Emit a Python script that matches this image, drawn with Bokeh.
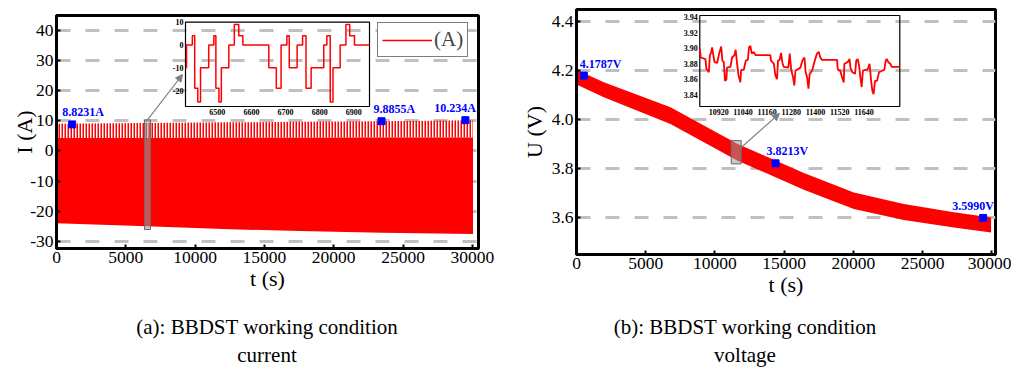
import numpy as np
from bokeh.plotting import figure
from bokeh.models import (Range1d, FixedTicker, PrintfTickFormatter, Legend, LegendItem,
                          Arrow, NormalHead, Spacer, Div)
from bokeh.layouts import row, column
from bokeh.embed import file_html
from bokeh.resources import INLINE
from bokeh.core.properties import value

SERIF = "Liberation Serif"
RED = "#ff0000"
BLUE = "#0000ff"
GRID = "#c0c0c0"
ARROW = "#808080"

# ======================= DATA =======================
# ---- (a) current ----
cur_x_ticks = [0, 5000, 10000, 15000, 20000, 25000, 30000]
cur_y_ticks = [-30, -20, -10, 0, 10, 20, 30, 40]
cur_env_t = [0, 6500, 12500, 17500, 23500, 30050]
cur_upper = [9.0, 9.3, 9.5, 9.7, 9.9, 10.2]
cur_dense_top = [4.3, 4.3, 4.4, 4.4, 4.5, 4.5]
cur_lower = [-24.0, -25.0, -26.0, -26.6, -27.2, -27.6]

cur_inset_t = [6407, 6410, 6427, 6434, 6443, 6451, 6475, 6490, 6496, 6505, 6512, 6534, 6550,
               6563, 6575, 6651, 6673, 6687, 6704, 6711, 6734, 6750, 6760, 6775, 6812, 6821,
               6831, 6839, 6860, 6877, 6888, 6902, 6946]
cur_inset_i = [-10, 0, 4, -19, -25, -10, 0, 4, -19, -25, -10, 0, 9,
               4, 0, -10, -19, 0, 4, -10, 0, 4, -19, -10, 0, 4,
               -25, -10, 0, 9, 4, 0, 0]
cur_inset_xlim = [6407, 6946]
cur_inset_ylim = [-27, 10]
cur_inset_x_ticks = [6500, 6600, 6700, 6800, 6900]
cur_inset_y_ticks = [-20, -10, 0, 10]
cur_zoom_t = [6350, 6780]
cur_zoom_i = [-26.1, 10.3]

cur_mark_t = [1130, 23450, 29500]
cur_mark_i = [8.8231, 9.8855, 10.234]
cur_mark_txt = ["8.8231A", "9.8855A", "10.234A"]
cur_caption = ["(a): BBDST working condition", "current"]

# ---- (b) voltage ----
volt_x_ticks = [0, 5000, 10000, 15000, 20000, 25000, 30000]
volt_y_ticks = [3.6, 3.8, 4.0, 4.2, 4.4]
volt_env_t = [0, 1975, 6790, 11610, 14380, 16425, 20035, 23650, 27260, 29950]
volt_upper = [4.203, 4.152, 4.050, 3.901, 3.833, 3.782, 3.703, 3.656, 3.622, 3.601]
volt_lower = [4.142, 4.091, 3.982, 3.833, 3.765, 3.714, 3.635, 3.591, 3.560, 3.540]

volt_inset_t = [10826, 10831, 10854, 10859, 10871, 10876, 10882, 10887, 10892, 10899, 10912,
                10922, 10932, 10938, 10945, 10951, 10958, 10961, 10978, 10986, 10998, 11004,
                11011, 11018, 11027, 11031, 11044, 11054, 11064, 11070, 11077, 11084, 11094,
                11102, 11176, 11179, 11193, 11201, 11209, 11214, 11222, 11229, 11236, 11242,
                11265, 11272, 11279, 11288, 11295, 11300, 11325, 11335, 11345, 11351, 11358,
                11365, 11371, 11383, 11394, 11407, 11416, 11424, 11431, 11507, 11510, 11523,
                11531, 11540, 11543, 11559, 11569, 11573, 11583, 11596, 11602, 11609, 11616,
                11622, 11629, 11635, 11647, 11655, 11662, 11668, 11675, 11682, 11688, 11695,
                11705, 11715, 11730, 11741, 11748, 11754, 11761, 11771, 11778, 11817]
volt_inset_v = [3.899, 3.888, 3.886, 3.873, 3.869, 3.891, 3.894, 3.901, 3.893, 3.882, 3.881,
                3.893, 3.902, 3.884, 3.882, 3.858, 3.860, 3.875, 3.876, 3.888, 3.891, 3.898,
                3.880, 3.865, 3.856, 3.872, 3.872, 3.884, 3.885, 3.901, 3.903, 3.893, 3.895,
                3.891, 3.891, 3.884, 3.880, 3.865, 3.860, 3.884, 3.885, 3.894, 3.881, 3.876,
                3.875, 3.893, 3.873, 3.863, 3.852, 3.871, 3.875, 3.884, 3.888, 3.869, 3.863,
                3.848, 3.867, 3.871, 3.882, 3.893, 3.895, 3.888, 3.885, 3.885, 3.873, 3.871,
                3.863, 3.856, 3.880, 3.882, 3.886, 3.875, 3.869, 3.867, 3.884, 3.886, 3.878,
                3.863, 3.850, 3.871, 3.872, 3.872, 3.875, 3.880, 3.860, 3.845, 3.841, 3.858,
                3.858, 3.869, 3.871, 3.872, 3.884, 3.886, 3.882, 3.880, 3.876, 3.876]
volt_inset_xlim = [10826, 11818]
volt_inset_ylim = [3.825, 3.942]
volt_inset_x_ticks = [10920, 11040, 11160, 11280, 11400, 11520, 11640]
volt_inset_y_ticks = [3.84, 3.86, 3.88, 3.90, 3.92, 3.94]
volt_zoom_t = [11177, 11900]
volt_zoom_v = [3.819, 3.914]

volt_mark_t = [530, 14380, 29380]
volt_mark_v = [4.1787, 3.8213, 3.5990]
volt_mark_txt = ["4.1787V", "3.8213V", "3.5990V"]
volt_caption = ["(b): BBDST working condition", "voltage"]

# ======================= LAYOUT (page pixels) =======================
# Bokeh's own page template sets the body margin to 0, so page pixels = picture pixels.
PAGE_W, PAGE_H = 1011, 370
FIG_BOTTOM = 302           # figures end here; captions fill the rest
SPLIT = 510                # page x where panel (b) starts
A_FRAME = dict(l=56, r=478, t=15, b=248)
B_FRAME = dict(l=576, r=995, t=9, b=254)
A_INSET = dict(l=185, r=369, t=21.7, b=106)
B_INSET = dict(l=699.3, r=899.3, t=15, b=106)
A_XR, A_YR = (0, 30447), (-32.4, 45.0)
B_XR, B_YR = (0, 30270), (3.450, 4.448)
A_LABEL_DX = [-10, -8, -31]
B_LABEL_DX = [-4, -9, -31]
TOP_BORDER = B_FRAME["t"]
CAP_CENTERS = (267, 745)   # caption centres (page x)
CAP_PAD_TOP, CAP_LINE = 11, 28


def px2x(fr, xr, px):
    return xr[0] + (px - fr["l"]) / (fr["r"] - fr["l"]) * (xr[1] - xr[0])


def px2y(fr, yr, py):
    return yr[0] + (fr["b"] - py) / (fr["b"] - fr["t"]) * (yr[1] - yr[0])


def inset_range(d0, d1, p0, p1, f0, f1):
    s = (p1 - p0) / (d1 - d0)
    return Range1d(start=d0 - (p0 - f0) / s, end=d1 + (f1 - p1) / s)


def base_fig(fr, xr, yr, bl, br, xticks, yticks, yfmt, ylabel, ylab_standoff):
    p = figure(frame_width=fr["r"] - fr["l"], frame_height=fr["b"] - fr["t"],
               min_border_left=bl, min_border_right=br, min_border_top=TOP_BORDER,
               min_border_bottom=FIG_BOTTOM - fr["b"], x_range=Range1d(*xr), y_range=Range1d(*yr),
               output_backend="svg", toolbar_location=None)
    p.outline_line_color = "black"
    p.outline_line_width = 3
    p.xgrid.visible = False
    p.ygrid.grid_line_color = GRID
    p.ygrid.grid_line_width = 3
    p.ygrid.grid_line_dash = "14 15"
    p.xaxis.ticker = FixedTicker(ticks=xticks)
    p.yaxis.ticker = FixedTicker(ticks=yticks)
    p.xaxis.formatter = PrintfTickFormatter(format="%d")
    p.yaxis.formatter = PrintfTickFormatter(format=yfmt)
    for ax in (p.xaxis[0], p.yaxis[0]):
        ax.axis_line_width = 3
        ax.major_tick_in = 4
        ax.major_tick_out = 0
        ax.major_tick_line_width = 2
        ax.minor_tick_line_color = None
        ax.major_label_text_font = SERIF
        ax.major_label_text_font_size = "17.5px"
        ax.major_label_text_color = "black"
        ax.axis_label_text_font = SERIF
        ax.axis_label_text_font_size = "22px"
        ax.axis_label_text_font_style = "normal"
        ax.axis_label_text_color = "black"
    p.xaxis.axis_label = "t (s)"
    p.xaxis.major_label_standoff = 3
    p.xaxis.axis_label_standoff = 0
    p.yaxis.axis_label = ylabel
    p.yaxis.major_label_standoff = 3
    p.yaxis.axis_label_standoff = ylab_standoff
    return p


def add_inset(p, fr, box, xlim, ylim, xticks, yticks, xlabels, ylabels):
    p.extra_x_ranges = {"inset": inset_range(xlim[0], xlim[1], box["l"], box["r"], fr["l"], fr["r"])}
    p.extra_y_ranges = {"inset": inset_range(ylim[0], ylim[1], -box["b"], -box["t"], -fr["b"], -fr["t"])}
    kw = dict(x_range_name="inset", y_range_name="inset")
    p.quad(left=[xlim[0]], right=[xlim[1]], bottom=[ylim[0]], top=[ylim[1]],
           fill_color=None, line_color="black", line_width=1.2, **kw)
    p.text(x=xticks, y=[ylim[0]] * len(xticks), text=xlabels, text_font=value(SERIF),
           text_font_size="8px", text_font_style="bold", text_align="center",
           text_baseline="top", y_offset=2, text_color="black", **kw)
    p.text(x=[xlim[0]] * len(yticks), y=yticks, text=ylabels, text_font=value(SERIF),
           text_font_size="8px", text_font_style="bold", text_align="right",
           text_baseline="middle", x_offset=-2, text_color="black", **kw)
    return kw


def caption(lines, x0, x1, center):
    half = min(center - x0, x1 - center)
    pad_left = center - half - x0
    html = ("<div style=\"width:%dpx;margin-left:%dpx;font-family:'Liberation Serif',serif;"
            "font-size:21px;line-height:%dpx;text-align:center;color:#000;"
            "padding-top:%dpx;white-space:nowrap;\">%s</div>"
            % (2 * half, pad_left, CAP_LINE, CAP_PAD_TOP, "<br>".join(lines)))
    return Div(text=html, width=x1 - x0, height=PAGE_H - FIG_BOTTOM, margin=(0, 0, 0, 0))


# ======================= (a) CURRENT =======================
pa = base_fig(A_FRAME, A_XR, A_YR, A_FRAME["l"], SPLIT - A_FRAME["r"],
              cur_x_ticks, cur_y_ticks, "%d", "I (A)", -10)
pa.varea(x=cur_env_t, y1=cur_lower, y2=cur_dense_top, fill_color=RED, fill_alpha=1)
pa.varea(x=cur_env_t, y1=cur_dense_top, y2=cur_upper, fill_color=None, fill_alpha=0,
         hatch_pattern="vertical_line", hatch_color=RED, hatch_scale=3, hatch_weight=2)
pa.quad(left=[cur_zoom_t[0]], right=[cur_zoom_t[1]], bottom=[cur_zoom_i[0]], top=[cur_zoom_i[1]],
        fill_color="#9a9a9a", fill_alpha=0.55, line_color="#6a6a6a", line_width=1)
kwa = add_inset(pa, A_FRAME, A_INSET, cur_inset_xlim, cur_inset_ylim, cur_inset_x_ticks,
                cur_inset_y_ticks, [str(v) for v in cur_inset_x_ticks],
                [str(v) for v in cur_inset_y_ticks])
r_cur = pa.step(x=cur_inset_t, y=cur_inset_i, mode="after", line_color=RED, line_width=1.5, **kwa)
pa.scatter(x=cur_mark_t, y=cur_mark_i, marker="square", size=7, color=BLUE)
pa.text(x=cur_mark_t, y=cur_mark_i, text=cur_mark_txt, x_offset=A_LABEL_DX, y_offset=-5,
        text_font=value(SERIF), text_font_size="12px", text_font_style="bold",
        text_color=BLUE, text_align="left", text_baseline="bottom")
zc = 0.5 * (cur_zoom_t[0] + cur_zoom_t[1])
pa.add_layout(Arrow(end=NormalHead(size=7, fill_color=ARROW, line_color=ARROW),
                    x_start=zc, y_start=cur_zoom_i[1],
                    x_end=px2x(A_FRAME, A_XR, A_INSET["l"] - 3),
                    y_end=px2y(A_FRAME, A_YR, 74),
                    line_color=ARROW, line_width=1.2))
leg = Legend(items=[LegendItem(label="(A)", renderers=[r_cur])], location=(321, 191),
             border_line_color="black", border_line_width=1, background_fill_color="white",
             background_fill_alpha=1, padding=4, spacing=0, margin=0, glyph_width=50,
             glyph_height=22, label_height=22, label_standoff=2, label_text_font=SERIF,
             label_text_font_size="21px", label_text_baseline="middle")
pa.add_layout(leg)

# ======================= (b) VOLTAGE =======================
pb = base_fig(B_FRAME, B_XR, B_YR, B_FRAME["l"] - SPLIT, PAGE_W - B_FRAME["r"],
              volt_x_ticks, volt_y_ticks, "%.1f", "U (V)", 2)
pb.varea(x=volt_env_t, y1=volt_lower, y2=volt_upper, fill_color=RED, fill_alpha=1)
pb.quad(left=[volt_zoom_t[0]], right=[volt_zoom_t[1]], bottom=[volt_zoom_v[0]], top=[volt_zoom_v[1]],
        fill_color="#9a9a9a", fill_alpha=0.55, line_color="#6a6a6a", line_width=1)
kwb = add_inset(pb, B_FRAME, B_INSET, volt_inset_xlim, volt_inset_ylim, volt_inset_x_ticks,
                volt_inset_y_ticks, [str(v) for v in volt_inset_x_ticks],
                ["%.2f" % v for v in volt_inset_y_ticks])
pb.line(x=volt_inset_t, y=volt_inset_v, line_color=RED, line_width=1.8, **kwb)
pb.scatter(x=volt_mark_t, y=volt_mark_v, marker="square", size=7, color=BLUE)
pb.text(x=volt_mark_t, y=volt_mark_v, text=volt_mark_txt, x_offset=B_LABEL_DX, y_offset=-5,
        text_font=value(SERIF), text_font_size="12px", text_font_style="bold",
        text_color=BLUE, text_align="left", text_baseline="bottom")
pb.add_layout(Arrow(end=NormalHead(size=7, fill_color=ARROW, line_color=ARROW),
                    x_start=volt_zoom_t[1], y_start=px2y(B_FRAME, B_YR, 147),
                    x_end=px2x(B_FRAME, B_XR, 779), y_end=px2y(B_FRAME, B_YR, 113),
                    line_color=ARROW, line_width=1.2))

# ======================= ASSEMBLY =======================
left_col = column(Spacer(width=pa.min_border_left, height=A_FRAME["t"] - B_FRAME["t"]), pa, spacing=0)
charts = row(left_col, pb, spacing=0)
caps = row(caption(cur_caption, 0, SPLIT, CAP_CENTERS[0]),
           caption(volt_caption, SPLIT, PAGE_W, CAP_CENTERS[1]), spacing=0)
layout = column(charts, caps, spacing=0)
open("out.html", "w").write(file_html(layout, INLINE))
